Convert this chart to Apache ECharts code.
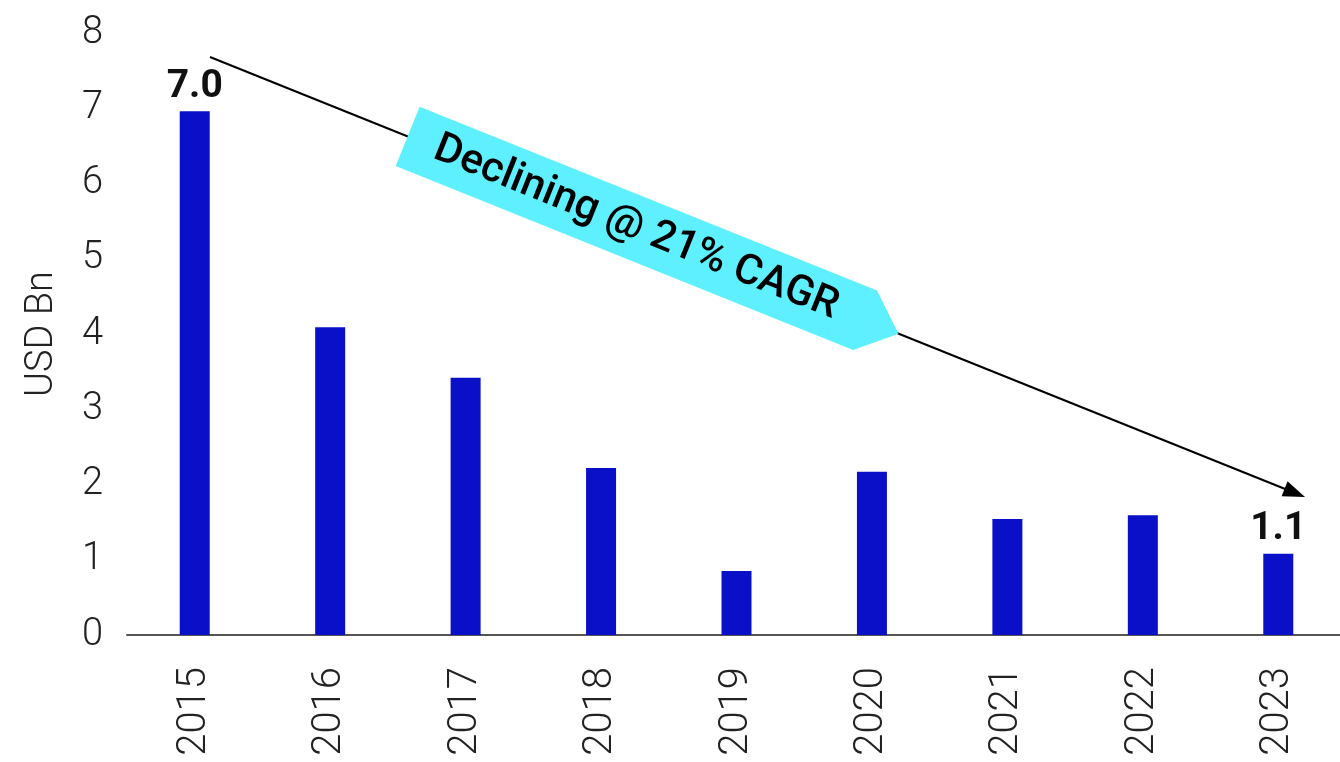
<!DOCTYPE html>
<html>
<head>
<meta charset="utf-8">
<title>USD Bn by year</title>
<script src="https://cdn.jsdelivr.net/npm/echarts@6/dist/echarts.min.js"></script>
<style>
  html, body { margin: 0; padding: 0; background: #fff; overflow: hidden; }
  #chart { width: 1360px; height: 762px; }
</style>
</head>
<body>
<div id="chart"></div>
<script>
// values
const years = ["2015", "2016", "2017", "2018", "2019", "2020", "2021", "2022", "2023"];
const usdBn = [6.96, 4.09, 3.42, 2.22, 0.85, 2.17, 1.54, 1.59, 1.08];
const labelledYears = ["2015", "2023"];
const yTicks = [0, 8, 1]; // min, max, step
const trendText = "Declining @ 21% CAGR";

var chart = echarts.init(document.getElementById("chart"));

// trend arrow runs from above the 2015 bar to past the 2023 bar
const arrowDx = 1095, arrowDy = 440;
const arrowLen = Math.sqrt(arrowDx * arrowDx + arrowDy * arrowDy);
const arrowAngle = -Math.atan2(arrowDy, arrowDx);

const barData = usdBn.map((v, i) => {
  const item = { value: v };
  if (labelledYears.includes(years[i])) {
    item.label = {
      show: true,
      position: "top",
      distance: 5,
      formatter: (p) => p.value.toFixed(1),
      fontFamily: "Roboto",
      fontWeight: "bold",
      fontSize: 39,
      color: "#111",
    };
  }
  return item;
});

const option = {
  animation: false,
  grid: { left: 127, top: 33, width: 1219, height: 602 },
  xAxis: {
    type: "category",
    data: years,
    axisLine: { lineStyle: { color: "#555", width: 2 } },
    axisTick: { show: false },
    axisLabel: {
      rotate: 90,
      margin: 32,
      fontFamily: "Roboto",
      fontWeight: 300,
      fontSize: 40,
      color: "#222",
    },
  },
  yAxis: {
    type: "value",
    min: yTicks[0],
    max: yTicks[1],
    interval: yTicks[2],
    name: "USD Bn",
    nameLocation: "middle",
    nameRotate: 90,
    nameGap: 66,
    nameTextStyle: {
      fontFamily: "Roboto",
      fontWeight: 300,
      fontSize: 38,
      color: "#222",
    },
    splitLine: { show: false },
    axisLine: { show: false },
    axisLabel: {
      margin: 24,
      fontFamily: "Roboto",
      fontWeight: 300,
      fontSize: 38,
      color: "#222",
    },
  },
  series: [
    {
      type: "bar",
      data: barData,
      barWidth: 30,
      itemStyle: { color: "#0a10c8" },
    },
  ],
  graphic: [
    {
      type: "group",
      x: 210,
      y: 57,
      rotation: arrowAngle,
      z: 100,
      children: [
        {
          type: "line",
          shape: { x1: 0, y1: 0, x2: arrowLen - 18, y2: 0 },
          style: { stroke: "#000", lineWidth: 2 },
        },
        {
          type: "polygon",
          shape: { points: [[arrowLen, 0], [arrowLen - 22, -8], [arrowLen - 22, 8]] },
          style: { fill: "#000" },
        },
        {
          type: "polygon",
          x: 213,
          shape: { points: [[0, -32], [493, -32], [529, 0], [493, 32], [0, 32]] },
          style: { fill: "#5ef0ff" },
        },
        {
          type: "text",
          x: 213 + 246,
          y: 0,
          style: {
            text: trendText,
            fontFamily: "Roboto",
            fontWeight: 500,
            fontSize: 42,
            fill: "#000",
            align: "center",
            verticalAlign: "middle",
          },
        },
      ],
    },
  ],
};

chart.setOption(option);
</script>
</body>
</html>
